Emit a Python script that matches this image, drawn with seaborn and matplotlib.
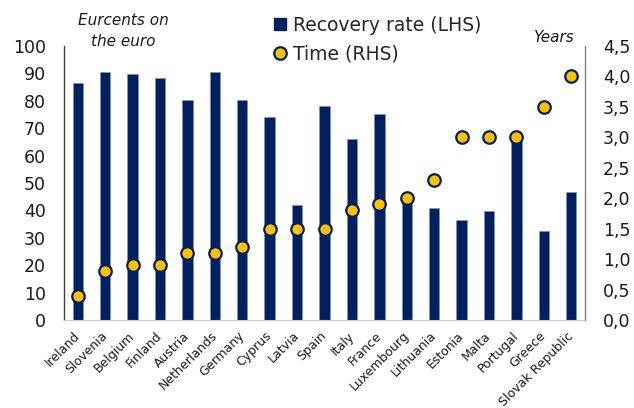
import matplotlib
matplotlib.use("Agg")
import matplotlib.pyplot as plt
import seaborn as sns
import pandas as pd
import numpy as np
from matplotlib.lines import Line2D
from matplotlib.ticker import FuncFormatter, MultipleLocator

countries = ["Ireland", "Slovenia", "Belgium", "Finland", "Austria", "Netherlands",
             "Germany", "Cyprus", "Latvia", "Spain", "Italy", "France", "Luxembourg",
             "Lithuania", "Estonia", "Malta", "Portugal", "Greece", "Slovak Republic"]
recovery_rate = [86.6, 90.5, 89.8, 88.4, 80.4, 90.5, 80.2, 74.2, 42.0, 78.0, 66.0, 75.2,
                 44.5, 40.8, 36.5, 39.8, 67.0, 32.6, 46.6]
time_years = [0.4, 0.8, 0.9, 0.9, 1.1, 1.1, 1.2, 1.5, 1.5, 1.5, 1.8, 1.9, 2.0, 2.3,
              3.0, 3.0, 3.0, 3.5, 4.0]

NAVY = "#002060"
GOLD = "#FFC000"

df = pd.DataFrame({"country": countries, "rate": recovery_rate, "time": time_years})

sns.set_style("white")
plt.rcParams["font.family"] = ["DejaVu Sans"]

fig = plt.figure(figsize=(6.34, 4.08), dpi=100)
ax = fig.add_axes([64/634, 1 - 320/408, (585 - 64)/634, (320 - 46)/408])

sns.barplot(data=df, x="country", y="rate", color=NAVY, width=0.38, ax=ax,
            saturation=1, edgecolor="#8090b8", linewidth=0.5)
ax.set_ylim(0, 100)
ax.yaxis.set_major_locator(MultipleLocator(10))
ax.set_xlabel("")
ax.set_ylabel("")

ax2 = ax.twinx()
sns.stripplot(data=df, x="country", y="time", jitter=False, color=GOLD, size=9,
              edgecolor=NAVY, linewidth=1.6, ax=ax2, zorder=5)
ax2.set_ylim(0, 4.5)
ax2.yaxis.set_major_locator(MultipleLocator(0.5))
ax2.yaxis.set_major_formatter(FuncFormatter(lambda v, p: f"{v:.1f}".replace(".", ",")))
ax2.set_ylabel("")
ax2.set_xlabel("")
ax.set_xlim(-0.5, len(countries) - 0.5)

for a in (ax, ax2):
    a.spines["top"].set_visible(False)
    a.tick_params(axis="y", length=0, labelsize=12.5, colors="#1a1a1a", pad=13)
ax.spines["left"].set_color("#404040")
ax.spines["left"].set_linewidth(1.0)
ax.spines["right"].set_visible(False)
ax.spines["bottom"].set_color("#d0d0d0")
ax2.spines["left"].set_visible(False)
ax2.spines["bottom"].set_visible(False)
ax2.spines["right"].set_color("#808080")
ax2.spines["right"].set_linewidth(1.0)

ax.tick_params(axis="x", length=0, labelsize=9, pad=10, colors="#1a1a1a")
for lbl in ax.get_xticklabels():
    lbl.set_rotation(45)
    lbl.set_ha("right")
    lbl.set_va("center")
    lbl.set_rotation_mode("anchor")

fig.text(123/634, 1 - 31/408, "Eurcents on\nthe euro", ha="center", va="center",
         fontsize=11, style="italic", color="#1a1a1a", linespacing=1.55)
fig.text(553/634, 1 - 37/408, "Years", ha="center", va="center",
         fontsize=11, style="italic", color="#1a1a1a")

handles = [
    Line2D([0], [0], marker="s", linestyle="none", markersize=9, markerfacecolor=NAVY,
           markeredgecolor=NAVY),
    Line2D([0], [0], marker="o", linestyle="none", markersize=9, markerfacecolor=GOLD,
           markeredgecolor=NAVY, markeredgewidth=1.6),
]
fig.legend(handles, ["Recovery rate (LHS)", "Time (RHS)"], loc="upper left",
           bbox_to_anchor=(272/634, 1 - 16/408), frameon=False, fontsize=13.5,
           handlelength=0.8, handletextpad=0.3, labelspacing=0.5, borderaxespad=0,
           borderpad=0)

fig.savefig("out.png", dpi=100)
